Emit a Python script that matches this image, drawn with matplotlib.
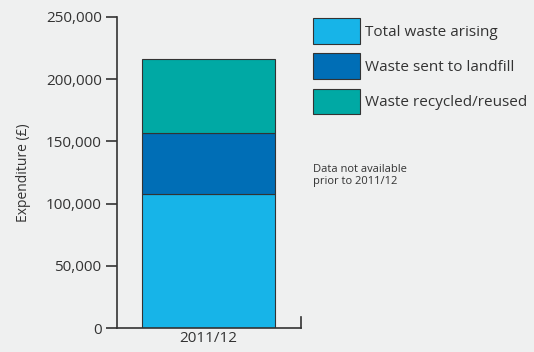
import matplotlib
matplotlib.use("Agg")
import matplotlib.pyplot as plt
from matplotlib.patches import Patch
from matplotlib.ticker import FuncFormatter

plt.rcParams['font.family'] = ['Open Sans', 'DejaVu Sans']

# data
years = ["2011/12"]
total_arising = [108000]
landfill = [49000]
recycled = [59000]
series_labels = ["Total waste arising", "Waste sent to landfill", "Waste recycled/reused"]
colors = ["#17b4e8", "#006eb6", "#00a9a4"]
yticks = [0, 50000, 100000, 150000, 200000, 250000]

bg = "#eff0f0"
fig = plt.figure(figsize=(5.34, 3.52), dpi=100, facecolor=bg)
ax = fig.add_axes([0.219, 0.068, 0.345, 0.884])
ax.set_facecolor(bg)

x = range(len(years))
bottom2 = [a + b for a, b in zip(total_arising, landfill)]
ax.bar(x, total_arising, width=0.8, color=colors[0], edgecolor="#333333", linewidth=0.8)
ax.bar(x, landfill, width=0.8, bottom=total_arising, color=colors[1], edgecolor="#333333", linewidth=0.8)
ax.bar(x, recycled, width=0.8, bottom=bottom2, color=colors[2], edgecolor="#333333", linewidth=0.8)

ax.set_xlim(-0.55, 0.557)
ax.set_ylim(0, 250000)
ax.set_yticks(yticks)
ax.yaxis.set_major_formatter(FuncFormatter(lambda v, p: f"{int(v):,}"))
ax.set_xticks(list(x))
ax.set_xticklabels(years)
ax.tick_params(axis='x', length=0, labelsize=11, colors="#333333", pad=2)
ax.tick_params(axis='y', length=8, width=1.2, labelsize=11, colors="#333333", pad=3)

ax.spines["top"].set_visible(False)
for s in ["left", "bottom", "right"]:
    ax.spines[s].set_color("#333333")
    ax.spines[s].set_linewidth(1.2)
ax.spines["right"].set_bounds(0, 9000)

ax.set_ylabel("Expenditure (£)", fontsize=10, color="#333333", labelpad=11)

handles = [Patch(facecolor=c, edgecolor="#333333", linewidth=0.8) for c in colors]
fig.legend(handles, series_labels, loc="upper left", bbox_to_anchor=(0.575, 0.965),
           frameon=False, fontsize=11, handlelength=3.05, handleheight=2.2,
           labelspacing=0.62, handletextpad=0.35, borderaxespad=0,
           labelcolor="#333333")

fig.text(0.586, 0.535, "Data not available\nprior to 2011/12", fontsize=8,
         color="#333333", va="top", linespacing=1.2)

fig.savefig("out.png", dpi=100, facecolor=bg)
